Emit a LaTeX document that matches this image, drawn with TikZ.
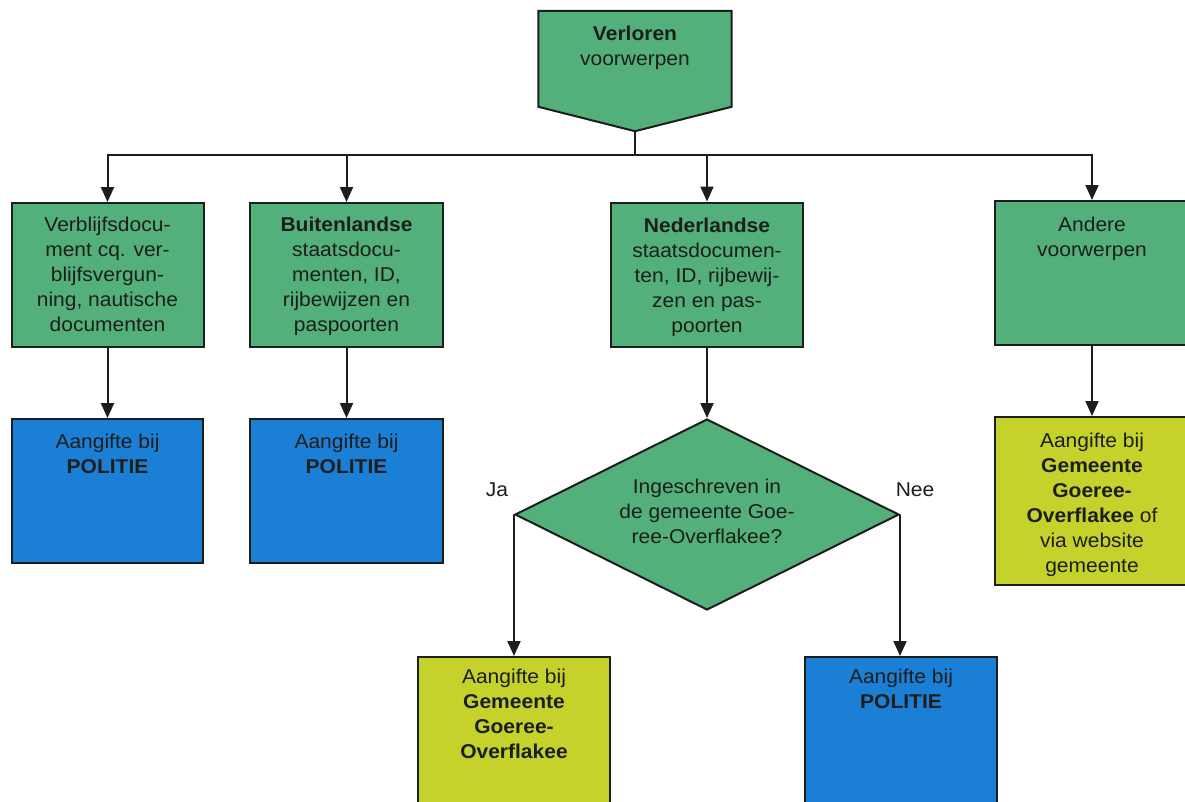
\documentclass[tikz,border=0pt]{standalone}
\usepackage{fontspec}
\setmainfont{Liberation Sans}[FakeStretch=1.05]
\usetikzlibrary{shapes.geometric,arrows.meta,calc}
\definecolor{boxgreen}{RGB}{84,176,122}
\definecolor{boxblue}{RGB}{28,127,214}
\definecolor{boxyellow}{RGB}{198,210,44}
\definecolor{ink}{RGB}{28,30,28}
\begin{document}
\begin{tikzpicture}[x=1pt,y=-1pt,
  box/.style={draw=ink, line width=2pt, inner sep=0pt, minimum width=192pt, minimum height=144pt},
  greenbox/.style={box, fill=boxgreen},
  bluebox/.style={box, fill=boxblue},
  yellowbox/.style={box, fill=boxyellow, minimum height=168pt},
  txt/.style={anchor=north, inner sep=0pt, align=center, text=ink, font=\fontsize{20}{25}\selectfont},
  lbl/.style={inner sep=0pt, text=ink, font=\fontsize{20}{25}\selectfont},
  arr/.style={draw=ink, line width=2pt, -{Triangle[width=13pt,length=15pt]}}]
\useasboundingbox (0,0) rectangle (1185,801);
\clip (0,0) rectangle (1185,801);
\fill[white] (0,0) rectangle (1185,801);

% top pentagon
\node[inner sep=0pt, minimum width=193pt, minimum height=120pt] (top) at (635,71) {};
\filldraw[fill=boxgreen, draw=ink, line width=2pt, line join=miter]
  (top.north west) -- (top.north east) -- ($(top.north east)+(0,96)$)
  -- (top.south) -- ($(top.north west)+(0,96)$) -- cycle;
\node[txt] (t0) at ($(top.north)+(0,15.5)$) {\textbf{Verloren}\\voorwerpen};

% first row
\node[greenbox] (b1) at (107.5,275) {};
\node[greenbox, minimum width=193pt] (b2) at (346.5,275) {};
\node[greenbox] (b3) at (707,274.5) {};
\node[greenbox, minimum width=194pt] (b4) at (1092,273) {};

\node[txt] (t1) at ($(b1.north)+(0,15)$) {Verblijfsdocu-\\ment cq. ver-\\blijfsvergun-\\ning, nautische\\documenten};
\node[txt] (t2) at ($(b2.north)+(0,15)$) {\textbf{Buitenlandse}\\staatsdocu-\\menten, ID,\\rijbewijzen en\\paspoorten};
\node[txt] (t3) at ($(b3.north)+(0,16)$) {\textbf{Nederlandse}\\staatsdocumen-\\ten, ID, rijbewij-\\zen en pas-\\poorten};
\node[txt] (t4) at ($(b4.north)+(0,17)$) {Andere\\voorwerpen};

% second row
\node[bluebox, minimum width=191pt] (p1) at (107.5,491) {};
\node[bluebox, minimum width=193pt] (p2) at (346.5,491) {};
\node[yellowbox, minimum width=194pt] (yR) at (1092,501) {};
\node[diamond, draw=ink, line width=2pt, fill=boxgreen, inner sep=0pt,
      minimum width=384pt, minimum height=191pt] (dia) at (707,514.5) {};

\node[txt] (tp1) at ($(p1.north)+(0,16)$) {Aangifte bij\\\textbf{POLITIE}};
\node[txt] (tp2) at ($(p2.north)+(0,16)$) {Aangifte bij\\\textbf{POLITIE}};
\node[txt] (tyR) at ($(yR.north)+(0,17)$) {Aangifte bij\\\textbf{Gemeente}\\\textbf{Goeree-}\\\textbf{Overflakee} of\\via website\\gemeente};
\node[txt] (tdia) at (707,479) {Ingeschreven in\\de gemeente Goe-\\ree-Overflakee?};

\node[lbl] (ja) at (497,490) {Ja};
\node[lbl] (nee) at (915,490) {Nee};

% third row
\node[yellowbox] (yB) at (514,741) {};
\node[box, fill=boxblue, minimum height=168pt] (pB) at (901,741) {};
\node[txt] (tyB) at ($(yB.north)+(0,13)$) {Aangifte bij\\\textbf{Gemeente}\\\textbf{Goeree-}\\\textbf{Overflakee}};
\node[txt] (tpB) at ($(pB.north)+(0,13)$) {Aangifte bij\\\textbf{POLITIE}};

% connectors
\coordinate (bus) at (635,155);
\draw[arr] (top.south) -- (bus) -| (b1.north);
\draw[arr] (top.south) -- (bus) -| (b2.north);
\draw[arr] (top.south) -- (bus) -| (b3.north);
\draw[arr] (top.south) -- (bus) -| (b4.north);
\draw[arr] (b1.south) -- (b1.south |- p1.north);
\draw[arr] (b2.south) -- (b2.south |- p2.north);
\draw[arr] (b3.south) -- (dia.north);
\draw[arr] (b4.south) -- (b4.south |- yR.north);
\draw[arr] (dia.west) -- (dia.west |- yB.north);
\draw[arr] (dia.east) -- (dia.east |- pB.north);
\end{tikzpicture}
\end{document}
